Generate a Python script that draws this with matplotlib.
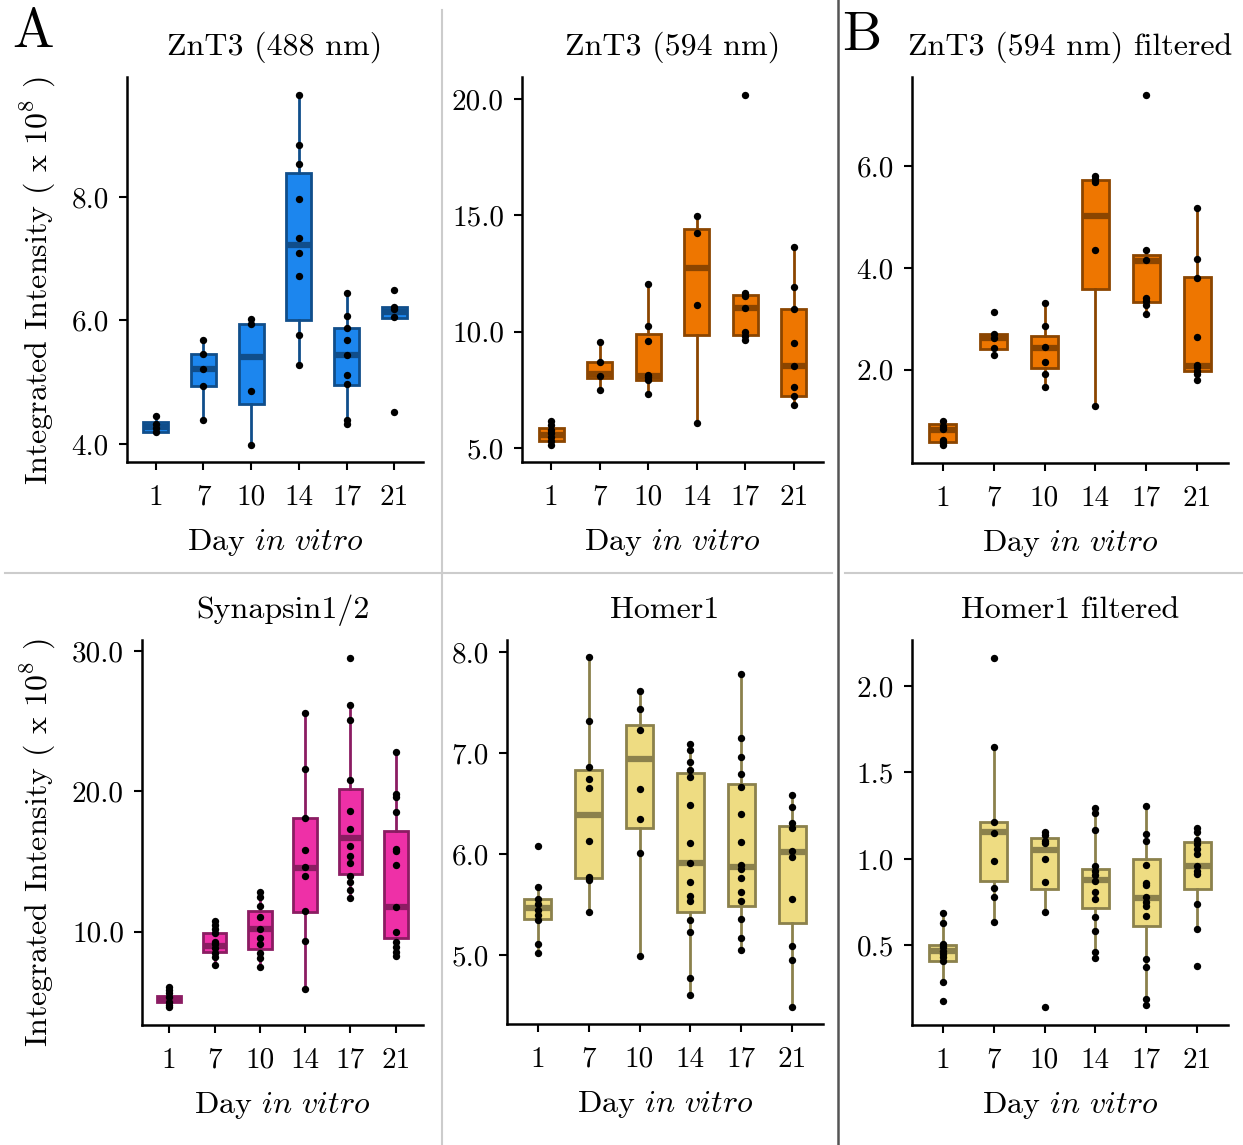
import matplotlib
matplotlib.use("Agg")
import matplotlib.pyplot as plt
from matplotlib.lines import Line2D

plt.rcParams['font.family'] = ['cmr10', 'DejaVu Serif']
plt.rcParams['mathtext.fontset'] = 'cm'
plt.rcParams['axes.unicode_minus'] = False
plt.rcParams['axes.formatter.use_mathtext'] = True

days = ["1", "7", "10", "14", "17", "21"]

# --- ZnT3 (488 nm) ---
znt3_488_pts = [
    [4.45, 4.33, 4.26, 4.20],
    [5.68, 5.45, 5.22, 4.94, 4.39],
    [6.03, 5.95, 4.85, 3.99],
    [9.66, 8.85, 8.54, 7.96, 7.34, 7.09, 6.72, 5.76, 5.28],
    [6.45, 6.07, 5.87, 5.69, 5.44, 5.11, 4.97, 4.39, 4.32],
    [6.50, 6.22, 6.19, 6.06, 4.52],
]
znt3_488_q1 = [4.20, 4.94, 4.64, 6.01, 4.96, 6.04]
znt3_488_med = [4.28, 5.22, 5.41, 7.22, 5.44, 6.14]
znt3_488_q3 = [4.35, 5.45, 5.95, 8.39, 5.87, 6.22]
znt3_488_lo = [4.20, 4.39, 3.99, 5.28, 4.32, 6.04]
znt3_488_hi = [4.45, 5.68, 6.03, 9.66, 6.45, 6.22]

# --- ZnT3 (594 nm) ---
znt3_594_pts = [
    [6.19, 6.00, 5.80, 5.64, 5.47, 5.29, 5.16],
    [9.57, 8.71, 8.09, 7.50],
    [12.04, 10.24, 9.59, 8.14, 8.04, 7.94, 7.33],
    [14.96, 14.26, 11.17, 6.09],
    [20.19, 11.66, 11.54, 11.03, 10.01, 9.83, 9.66],
    [13.66, 11.94, 11.00, 9.51, 8.53, 7.64, 7.26, 6.86],
]
znt3_594_q1 = [5.29, 8.00, 7.94, 9.86, 9.87, 7.26]
znt3_594_med = [5.57, 8.17, 8.11, 12.73, 11.03, 8.53]
znt3_594_q3 = [5.87, 8.71, 9.90, 14.40, 11.60, 11.00]
znt3_594_lo = [5.16, 7.50, 7.33, 6.09, 9.66, 6.86]
znt3_594_hi = [6.19, 9.57, 12.04, 14.96, 11.66, 13.66]

# --- ZnT3 (594 nm) filtered ---
znt3_filt_pts = [
    [1.00, 0.90, 0.83, 0.62, 0.56, 0.51],
    [3.13, 2.71, 2.62, 2.42, 2.29],
    [3.31, 2.85, 2.44, 2.16, 1.91, 1.66],
    [5.80, 5.74, 5.69, 4.35, 1.28],
    [7.41, 4.36, 4.15, 3.40, 3.36, 3.28, 3.10],
    [5.17, 4.18, 3.80, 2.64, 2.10, 2.05, 1.97, 1.92, 1.79],
]
znt3_filt_q1 = [0.58, 2.41, 2.03, 3.59, 3.34, 1.97]
znt3_filt_med = [0.81, 2.62, 2.43, 5.02, 4.14, 2.08]
znt3_filt_q3 = [0.94, 2.71, 2.66, 5.72, 4.26, 3.82]
znt3_filt_lo = [0.51, 2.41, 1.66, 1.28, 3.10, 1.79]
znt3_filt_hi = [1.00, 2.71, 3.31, 5.80, 4.36, 5.17]

# --- Synapsin1/2 ---
syn_pts = [
    [6.08, 5.84, 5.60, 5.32, 5.01, 4.77, 4.60],
    [10.76, 10.47, 10.17, 9.88, 9.29, 9.10, 8.81, 8.46, 8.17, 7.62],
    [12.80, 12.49, 11.85, 11.05, 10.17, 9.57, 9.12, 8.50, 8.10, 7.51],
    [25.61, 21.57, 18.08, 15.82, 14.63, 13.97, 11.50, 9.36, 5.89],
    [29.55, 26.15, 25.13, 20.81, 18.62, 17.36, 16.10, 15.39, 14.87, 13.97, 13.56, 13.00, 12.42],
    [22.83, 19.81, 19.62, 18.55, 15.89, 15.77, 14.77, 11.78, 10.00, 9.29, 8.93, 8.57, 8.27],
]
syn_q1 = [5.01, 8.53, 8.74, 11.43, 14.11, 9.57]
syn_med = [5.20, 9.00, 10.17, 14.56, 16.67, 11.78]
syn_q3 = [5.42, 9.93, 11.50, 18.08, 20.21, 17.20]
syn_lo = [4.60, 7.62, 7.51, 5.89, 12.42, 8.27]
syn_hi = [6.08, 10.76, 12.80, 25.61, 26.15, 22.83]

# --- Homer1 ---
homer_pts = [
    [6.08, 5.67, 5.56, 5.51, 5.45, 5.40, 5.35, 5.11, 5.02],
    [7.95, 7.32, 6.86, 6.75, 6.66, 6.13, 5.77, 5.74, 5.43],
    [7.62, 7.44, 7.23, 6.65, 6.35, 6.01, 4.99],
    [7.09, 7.03, 6.91, 6.83, 6.77, 6.49, 6.11, 5.91, 5.72, 5.59, 5.54, 5.35, 5.23, 4.77, 4.60],
    [7.79, 7.15, 6.96, 6.79, 6.67, 6.40, 6.12, 5.89, 5.85, 5.76, 5.63, 5.54, 5.36, 5.17, 5.05],
    [6.59, 6.47, 6.31, 6.26, 6.03, 5.97, 5.56, 5.09, 4.95, 4.49],
]
homer_q1 = [5.36, 5.76, 6.26, 5.43, 5.49, 5.32]
homer_med = [5.47, 6.39, 6.94, 5.91, 5.87, 6.02]
homer_q3 = [5.56, 6.83, 7.28, 6.80, 6.70, 6.28]
homer_lo = [5.02, 5.43, 4.99, 4.60, 5.05, 4.49]
homer_hi = [5.67, 7.95, 7.62, 7.09, 7.79, 6.59]

# --- Homer1 filtered ---
homer_filt_pts = [
    [0.685, 0.627, 0.51, 0.49, 0.47, 0.45, 0.43, 0.41, 0.29, 0.176],
    [2.164, 1.647, 1.212, 1.15, 0.99, 0.832, 0.778, 0.633],
    [1.154, 1.139, 1.106, 1.093, 1.00, 0.865, 0.691, 0.141],
    [1.293, 1.268, 1.168, 0.956, 0.932, 0.907, 0.875, 0.811, 0.768, 0.666, 0.581, 0.459, 0.427],
    [1.305, 1.141, 1.106, 0.965, 0.861, 0.849, 0.778, 0.749, 0.726, 0.672, 0.421, 0.373, 0.189, 0.154],
    [1.18, 1.154, 1.11, 1.087, 1.058, 1.029, 0.958, 0.929, 0.913, 0.739, 0.595, 0.378],
]
homer_filt_q1 = [0.407, 0.871, 0.824, 0.716, 0.610, 0.826]
homer_filt_med = [0.465, 1.154, 1.052, 0.878, 0.774, 0.958]
homer_filt_q3 = [0.504, 1.214, 1.120, 0.942, 1.000, 1.095]
homer_filt_lo = [0.29, 0.633, 0.691, 0.427, 0.154, 0.595]
homer_filt_hi = [0.685, 1.647, 1.154, 1.293, 1.305, 1.18]

W, H = 1243, 1145
fig = plt.figure(figsize=(W / 100, H / 100), dpi=100)


def add_panel(box, title, pts, q1, med, q3, lo, hi, fill, edge, yticks):
    l, r, t, b = box
    ax = fig.add_axes([l / W, 1 - b / H, (r - l) / W, (b - t) / H])
    pos = list(range(1, len(days) + 1))
    stats = []
    for i in range(len(days)):
        stats.append(dict(q1=q1[i], med=med[i], q3=q3[i], whislo=lo[i], whishi=hi[i], fliers=[]))
    ax.bxp(stats, positions=pos, widths=0.52, patch_artist=True, showfliers=False, showcaps=False,
           boxprops=dict(facecolor=fill, edgecolor=edge, linewidth=2),
           whiskerprops=dict(color=edge, linewidth=2),
           medianprops=dict(color=edge, linewidth=4.5))
    for p, vals in zip(pos, pts):
        ax.scatter([p] * len(vals), vals, s=28, color="black", zorder=5, linewidths=0)
    allv = [v for vals in pts for v in vals]
    lo_v, hi_v = min(allv), max(allv)
    pad = (hi_v - lo_v) * 0.05
    ax.set_ylim(lo_v - pad, hi_v + pad)
    ax.set_xlim(0.4, len(days) + 0.6)
    ax.set_xticks(pos)
    ax.set_xticklabels(days)
    ax.set_yticks(yticks)
    ax.set_yticklabels([f"{v:.1f}" for v in yticks])
    for s in ["top", "right"]:
        ax.spines[s].set_visible(False)
    for s in ["left", "bottom"]:
        ax.spines[s].set_linewidth(1.8)
    ax.tick_params(length=6, width=1.5, labelsize=21, pad=7)
    ax.tick_params(axis="x", pad=10)
    ax.set_title(title, fontsize=23, pad=16)
    ax.set_xlabel(r"Day $\mathit{in\ vitro}$", fontsize=23, labelpad=12)
    return ax


add_panel((127, 423, 77, 462), "ZnT3 (488 nm)", znt3_488_pts, znt3_488_q1, znt3_488_med,
          znt3_488_q3, znt3_488_lo, znt3_488_hi, "#1C86EE", "#104E8B", [4, 6, 8])
add_panel((522, 823, 77, 462), "ZnT3 (594 nm)", znt3_594_pts, znt3_594_q1, znt3_594_med,
          znt3_594_q3, znt3_594_lo, znt3_594_hi, "#EE7600", "#8B4500", [5, 10, 15, 20])
add_panel((912, 1228, 77, 463), "ZnT3 (594 nm) filtered", znt3_filt_pts, znt3_filt_q1, znt3_filt_med,
          znt3_filt_q3, znt3_filt_lo, znt3_filt_hi, "#EE7600", "#8B4500", [2, 4, 6])
add_panel((142, 423, 640, 1025), "Synapsin1/2", syn_pts, syn_q1, syn_med,
          syn_q3, syn_lo, syn_hi, "#EE30A7", "#8B1C62", [10, 20, 30])
add_panel((507, 823, 640, 1024), "Homer1", homer_pts, homer_q1, homer_med,
          homer_q3, homer_lo, homer_hi, "#EEDC82", "#8B814C", [5, 6, 7, 8])
add_panel((912, 1228, 640, 1025), "Homer1 filtered", homer_filt_pts, homer_filt_q1, homer_filt_med,
          homer_filt_q3, homer_filt_lo, homer_filt_hi, "#EEDC82", "#8B814C", [0.5, 1.0, 1.5, 2.0])

ylab = r"Integrated Intensity ( x $10^8$ )"
fig.text(38 / W, 1 - 280 / H, ylab, rotation=90, ha="center", va="center", fontsize=23)
fig.text(38 / W, 1 - 842 / H, ylab, rotation=90, ha="center", va="center", fontsize=23)

fig.text(33 / W, 1 - 33 / H, "A", ha="center", va="center", fontsize=40)
fig.text(862 / W, 1 - 36 / H, "B", ha="center", va="center", fontsize=40)

# panel separators
fig.add_artist(Line2D([442 / W, 442 / W], [0, 1 - 10 / H], color="#cccccc", linewidth=1.5))
fig.add_artist(Line2D([838 / W, 838 / W], [0, 1], color="#555555", linewidth=1.8))
fig.add_artist(Line2D([5 / W, 832 / W], [1 - 573 / H, 1 - 573 / H], color="#cccccc", linewidth=1.5))
fig.add_artist(Line2D([845 / W, 1 - 0.5 / W], [1 - 573 / H, 1 - 573 / H], color="#cccccc", linewidth=1.5))

fig.savefig("out.png", dpi=100)
